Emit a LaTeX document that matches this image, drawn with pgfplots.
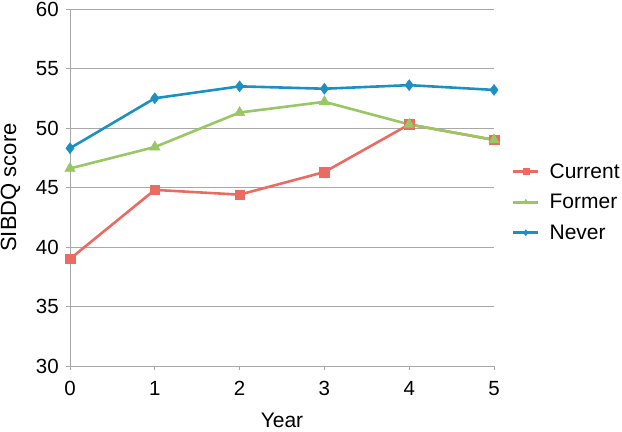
\documentclass[border=0pt]{standalone}
\usepackage{fontspec}
\setmainfont{Liberation Sans}
\usepackage{pgfplots}
\pgfplotsset{compat=1.18}
\definecolor{cur}{HTML}{EB6B62}
\definecolor{form}{HTML}{98C763}
\definecolor{nev}{HTML}{1C90C4}
\definecolor{gridc}{HTML}{A8A8A8}
\begin{document}
\begin{tikzpicture}[x=1bp,y=1bp]
\useasboundingbox (0,0) rectangle (622,431);
\begin{axis}[
  at={(70bp,65bp)}, anchor=south west,
  scale only axis, width=424bp, height=357bp,
  xmin=0, xmax=5, ymin=30, ymax=60,
  xtick={0,1,2,3,4,5}, ytick={30,35,40,45,50,55,60},
  axis x line*=bottom, axis y line*=left,
  axis line style={gridc, line width=0.9bp, -},
  ymajorgrids, grid style={gridc, line width=0.9bp},
  tick style={gridc, line width=0.9bp},
  tick align=outside,
  major tick length=4bp,
  tick label style={font=\fontsize{20.5bp}{24bp}\selectfont},
  xticklabel style={anchor=base, yshift=-25bp},
  yticklabel style={anchor=east, inner xsep=0pt, xshift=-7bp},
  /pgf/number format/assume math mode=true,
  xlabel={Year}, ylabel={SIBDQ score},
  label style={font=\fontsize{21bp}{24bp}\selectfont},
  xlabel style={at={(axis description cs:0.5,0)}, yshift=-61bp, anchor=base},
  ylabel style={at={(axis description cs:-0.14,0.5)}, anchor=center, font=\fontsize{22bp}{24bp}\selectfont},
  legend style={draw=none, at={(1.042,0.459)}, anchor=west, font=\fontsize{21bp}{24bp}\selectfont, row sep=10.5bp, fill=none, inner sep=0pt,
    /tikz/every odd column/.append style={column sep=8bp}},
  legend cell align=left,
  legend image code/.code={\draw[mark repeat=2,mark phase=2,mark size=3bp] plot coordinates {(0bp,0bp) (12.5bp,0bp) (25bp,0bp)};},
  clip=false,
]
\addplot[cur, line width=2.6bp, mark=square*, mark size=4.8bp, mark options={solid, line width=0.5bp}] coordinates {(0,39.0) (1,44.8) (2,44.4) (3,46.3) (4,50.3) (5,49.0)};
\addlegendentry{Current}
\addplot[form, line width=2.6bp, mark=triangle*, mark size=6bp, mark options={solid, line width=0.5bp}] coordinates {(0,46.6) (1,48.4) (2,51.3) (3,52.2) (4,50.3) (5,49.0)};
\addlegendentry{Former}
\addplot[nev, line width=2.6bp, mark=diamond*, mark size=5.5bp, mark options={solid, line width=0.5bp}] coordinates {(0,48.3) (1,52.5) (2,53.5) (3,53.3) (4,53.6) (5,53.2)};
\addlegendentry{Never}
\end{axis}
\end{tikzpicture}
\end{document}
